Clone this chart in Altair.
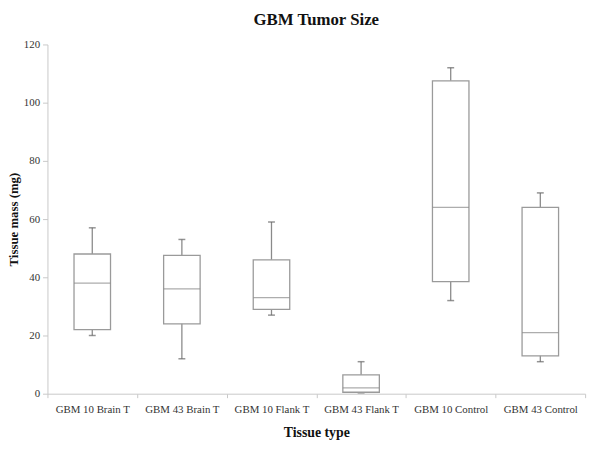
import altair as alt
import pandas as pd

categories = ["GBM 10 Brain T", "GBM 43 Brain T", "GBM 10 Flank T",
              "GBM 43 Flank T", "GBM 10 Control", "GBM 43 Control"]
mins = [20.0, 12.0, 27.0, 0.3, 32.0, 11.0]
q1s = [22.0, 24.0, 29.0, 0.5, 38.5, 13.0]
medians = [38.0, 36.0, 33.0, 2.0, 64.0, 21.0]
q3s = [48.0, 47.5, 46.0, 6.5, 107.5, 64.0]
maxs = [57.0, 53.0, 59.0, 11.0, 112.0, 69.0]
y_ticks = [0, 20, 40, 60, 80, 100, 120]

df = pd.DataFrame({
    "cat": categories, "min": mins, "q1": q1s, "median": medians,
    "q3": q3s, "max": maxs,
})

FONT = "Liberation Serif"
W, H = 545, 354
BOX = 37

x = alt.X("cat:N", sort=categories, title="Tissue type",
          scale=alt.Scale(paddingInner=0, paddingOuter=0),
          axis=alt.Axis(labelAngle=0, tickBand="extent", domainColor="#c8c8c8",
                        tickColor="#c8c8c8", tickSize=4, labelPadding=6,
                        labelFontSize=11, labelColor="#333", labelFont=FONT,
                        titleFont=FONT, titleFontSize=14, titleFontWeight="bold",
                        titleColor="#111", titlePadding=11))
yscale = alt.Scale(domain=[0, 120], nice=False)

base = alt.Chart(df)

whisker = base.mark_rule(color="#8a8a8a", strokeWidth=1.3).encode(
    x=x,
    y=alt.Y("min:Q", scale=yscale, title="Tissue mass (mg)",
            axis=alt.Axis(values=y_ticks, grid=False, domainColor="#c8c8c8",
                          tickColor="#c8c8c8", tickSize=5, labelPadding=3,
                          labelFontSize=11, labelColor="#333", labelFont=FONT,
                          titleFont=FONT, titleFontSize=13, titleFontWeight="bold",
                          titleColor="#111", titlePadding=3)),
    y2="max:Q",
)

cap_lo = base.mark_tick(color="#666", size=7, thickness=1.5).encode(
    x=x, y=alt.Y("min:Q", scale=yscale))
cap_hi = base.mark_tick(color="#666", size=7, thickness=1.5).encode(
    x=x, y=alt.Y("max:Q", scale=yscale))

box = base.mark_bar(fill="white", stroke="#9a9a9a", strokeWidth=1.3,
                    size=BOX).encode(
    x=x, y=alt.Y("q1:Q", scale=yscale), y2="q3:Q")

med = base.mark_tick(color="#8a8a8a", size=BOX, thickness=1.2).encode(
    x=x, y=alt.Y("median:Q", scale=yscale))

chart = alt.layer(whisker, cap_lo, cap_hi, box, med).properties(
    width=W, height=H,
    title=alt.TitleParams("GBM Tumor Size", font=FONT, fontSize=17,
                          fontWeight="bold", color="#111", offset=10),
    autosize=alt.AutoSizeParams(type="none"),
    padding={"left": 40, "top": 34, "right": 9, "bottom": 47},
).configure_view(stroke=None)

chart.save("out.html", embed_options={"renderer": "svg", "actions": False})
